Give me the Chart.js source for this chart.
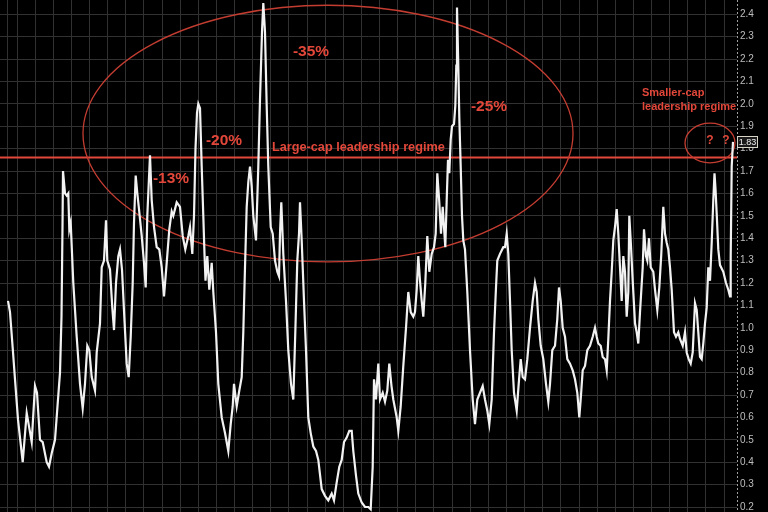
<!DOCTYPE html>
<html>
<head>
<meta charset="utf-8">
<script src="https://cdn.jsdelivr.net/npm/chart.js@4.4.1/dist/chart.umd.min.js"></script>
<style>
  html, body { margin: 0; padding: 0; background: #000; }
  #wrap { width: 768px; height: 512px; }
</style>
</head>
<body>
<div id="wrap"><canvas id="myChart" width="768" height="512"></canvas></div>
<script>
// time axis (arbitrary units)
var t = [
  8, 10, 12.7, 15, 18, 22.7, 26.7, 29, 31.7, 33,
  35, 37, 40, 42.7, 46.7, 49, 51.7, 55, 57, 60,
  61.5, 62.5, 63, 65, 66.7, 68.3, 69.3, 70.7, 73.3, 76.7,
  80, 82.7, 85, 87.3, 89.3, 91.7, 95, 96.7, 100, 101.7,
  104, 106, 107.3, 110, 112.3, 114, 116, 118.3, 120, 122,
  124.3, 126.7, 128.7, 130.7, 132.7, 134, 135.7, 137.3, 139, 141.7,
  144, 145.7, 147.3, 150, 151.7, 154, 156.7, 159.3, 161.7, 164,
  166.7, 169.3, 171.7, 173.3, 176.7, 180, 182.7, 185.3, 188.3, 190,
  192.3, 194, 195.5, 197, 198.3, 200, 201.7, 203.3, 204.5, 205.5,
  207.3, 209.3, 211.7, 213.3, 216, 218.3, 221.7, 225, 228.3, 230.7,
  232.7, 234, 236.7, 239.3, 241.7, 243.3, 245, 246.7, 248.3, 250,
  251.7, 253.3, 256, 258.3, 260, 262, 263.3, 265, 266.7, 268.3,
  270.7, 272.7, 275, 277.3, 279, 280, 281.3, 283.3, 286, 288.3,
  291, 293.3, 295.3, 297.3, 299, 300, 301.7, 304, 306, 308.3,
  310.7, 313.3, 316, 318.3, 321.7, 325, 328.3, 331.7, 334, 336.7,
  339.3, 341.7, 344, 346.7, 349.3, 351.7, 353.3, 356, 358.3, 361.7,
  365, 368.3, 370.7, 372.7, 374, 376, 378.3, 380, 382.7, 385,
  387.3, 389.3, 391.5, 393.3, 396.7, 398.3, 400.7, 403.3, 406, 408.3,
  410.7, 413.3, 415, 416.7, 418.3, 420, 421.7, 423.3, 425.3, 427.3,
  429.3, 431.7, 434, 435.7, 437.3, 439.3, 441, 442.7, 444, 445.3,
  446.7, 448, 449.3, 450.7, 452, 454, 455.3, 456.3, 457, 458.3,
  459.3, 460.7, 462, 463.3, 465, 467.3, 470, 472.7, 475, 477.3,
  480, 482.7, 485, 487.3, 489.3, 491.7, 494, 496, 497.3, 500,
  503.3, 505, 506.7, 508.3, 510, 511.7, 514, 516.7, 518.7, 520.7,
  522.7, 525, 527.3, 530, 532.7, 535, 536.7, 538.3, 540.7, 543.3,
  546, 548.3, 550, 552.3, 555, 557.3, 559, 560.7, 562.7, 565,
  567.3, 570, 572.7, 575, 577.3, 579.3, 580.7, 582.7, 585, 587.3,
  590, 592.7, 595, 596.7, 598.3, 600.7, 602.7, 605, 606.7, 608.3,
  610, 611.7, 613.3, 615, 616.7, 618.3, 620, 621.7, 623.3, 625,
  626.7, 628.3, 629.3, 630.7, 632.7, 635, 636.7, 638.3, 640, 642.7,
  644, 646, 647.3, 649, 650.7, 653.3, 655, 657.3, 659.3, 661.3,
  663.3, 665, 666.7, 668.3, 670, 671.7, 674, 676, 678.3, 680,
  682.7, 685, 686.7, 688.7, 690.7, 692.7, 695, 696.7, 698.3, 700,
  701.7, 703.3, 705, 706.7, 708.3, 710, 711.7, 713.3, 714.5, 715.5,
  716.7, 718.3, 720, 723.3, 726, 728.3, 730, 730.7, 731.7, 733
];

// ratio values
var ratio = [
  1.12, 1.07, 0.91, 0.77, 0.59, 0.40, 0.62, 0.56, 0.49, 0.59,
  0.74, 0.71, 0.50, 0.49, 0.40, 0.38, 0.44, 0.50, 0.62, 0.80,
  1.05, 1.45, 1.70, 1.60, 1.59, 1.60, 1.44, 1.47, 1.20, 0.96,
  0.75, 0.64, 0.75, 0.92, 0.90, 0.78, 0.72, 0.89, 1.02, 1.27,
  1.30, 1.48, 1.30, 1.26, 1.09, 0.99, 1.20, 1.32, 1.35, 1.26,
  1.05, 0.84, 0.78, 0.96, 1.20, 1.47, 1.68, 1.60, 1.53, 1.41,
  1.29, 1.18, 1.50, 1.77, 1.57, 1.45, 1.36, 1.35, 1.27, 1.14,
  1.29, 1.44, 1.52, 1.50, 1.56, 1.54, 1.41, 1.35, 1.41, 1.45,
  1.33, 1.50, 1.80, 1.96, 2.00, 1.98, 1.72, 1.50, 1.33, 1.21,
  1.32, 1.17, 1.29, 1.16, 0.98, 0.75, 0.60, 0.53, 0.45, 0.57,
  0.65, 0.75, 0.65, 0.72, 0.78, 0.98, 1.27, 1.54, 1.65, 1.72,
  1.63, 1.50, 1.39, 1.72, 2.02, 2.32, 2.45, 2.32, 1.99, 1.72,
  1.45, 1.42, 1.30, 1.25, 1.23, 1.42, 1.56, 1.33, 1.12, 0.90,
  0.75, 0.68, 0.98, 1.30, 1.42, 1.56, 1.39, 1.12, 0.90, 0.60,
  0.53, 0.47, 0.45, 0.41, 0.28, 0.25, 0.23, 0.26, 0.23, 0.31,
  0.38, 0.41, 0.49, 0.51, 0.54, 0.54, 0.45, 0.34, 0.26, 0.22,
  0.20, 0.20, 0.19, 0.38, 0.77, 0.68, 0.84, 0.68, 0.71, 0.67,
  0.72, 0.84, 0.74, 0.68, 0.60, 0.54, 0.65, 0.83, 1.00, 1.16,
  1.07, 1.05, 1.07, 1.17, 1.32, 1.21, 1.12, 1.05, 1.20, 1.41,
  1.25, 1.33, 1.36, 1.42, 1.69, 1.56, 1.42, 1.54, 1.45, 1.36,
  1.57, 1.75, 1.69, 1.84, 1.90, 1.91, 1.99, 2.17, 2.43, 2.17,
  1.94, 1.72, 1.50, 1.39, 1.35, 1.16, 0.90, 0.68, 0.57, 0.68,
  0.71, 0.74, 0.68, 0.63, 0.57, 0.68, 0.98, 1.18, 1.30, 1.33,
  1.36, 1.36, 1.42, 1.33, 1.12, 0.90, 0.71, 0.63, 0.75, 0.86,
  0.78, 0.77, 0.86, 1.00, 1.12, 1.20, 1.16, 1.04, 0.92, 0.86,
  0.75, 0.67, 0.75, 0.90, 0.92, 1.04, 1.18, 1.12, 1.00, 0.96,
  0.86, 0.84, 0.81, 0.77, 0.71, 0.60, 0.68, 0.81, 0.83, 0.90,
  0.92, 0.96, 1.00, 0.96, 0.93, 0.92, 0.87, 0.86, 0.81, 0.95,
  1.12, 1.25, 1.39, 1.45, 1.53, 1.42, 1.27, 1.12, 1.32, 1.25,
  1.05, 1.16, 1.50, 1.39, 1.21, 1.02, 0.98, 0.93, 1.07, 1.27,
  1.44, 1.32, 1.30, 1.40, 1.27, 1.25, 1.17, 1.08, 1.18, 1.33,
  1.54, 1.42, 1.38, 1.35, 1.27, 1.17, 0.98, 0.96, 0.98, 0.95,
  0.92, 0.98, 0.89, 0.86, 0.84, 0.89, 1.11, 1.08, 0.98, 0.87,
  0.86, 0.93, 1.02, 1.09, 1.27, 1.21, 1.38, 1.57, 1.69, 1.62,
  1.51, 1.35, 1.28, 1.25, 1.20, 1.17, 1.14, 1.32, 1.72, 1.83
];

// y-axis tick labels
var yTicks = [0.2, 0.3, 0.4, 0.5, 0.6, 0.7, 0.8, 0.9, 1.0, 1.1, 1.2,
  1.3, 1.4, 1.5, 1.6, 1.7, 1.8, 1.9, 2.0, 2.1, 2.2, 2.3, 2.4];

// regime threshold
var regimeLine = 1.76;

var RED = '#e2473a';
var GRID = '#313131';
var FONT = "'Liberation Sans', Arial, sans-serif";

// vertical grid positions (style only)
var gridX = [7];
for (var k = 0; k < 40; k++) gridX.push(17 + k * 18.13);

// notes drawn on top, in axis units
var notes = [
  { text: '-35%', x: 311, y: 2.232, size: 15.5, align: 'center' },
  { text: '-25%', x: 489, y: 1.985, size: 15.5, align: 'center' },
  { text: '-20%', x: 224, y: 1.834, size: 15.5, align: 'center' },
  { text: '-13%', x: 171, y: 1.664, size: 15.5, align: 'center' },
  { text: 'Large-cap leadership regime', x: 272, y: 1.803, size: 12.7, align: 'left' },
  { text: 'Smaller-cap', x: 642, y: 2.048, size: 11, align: 'left' },
  { text: 'leadership regime', x: 642, y: 1.986, size: 11, align: 'left' },
  { text: '?', x: 710, y: 1.834, size: 12, align: 'center' },
  { text: '?', x: 726, y: 1.834, size: 12, align: 'center' }
];

var rings = [
  { x0: 83, x1: 573, y0: 2.44, y1: 1.294 },
  { x0: 685, x1: 735, y0: 1.914, y1: 1.736 }
];

var overlay = {
  id: 'overlay',
  beforeDatasetsDraw: function(chart) {
    var ctx = chart.ctx, sx = chart.scales.x, sy = chart.scales.y, a = chart.chartArea;
    ctx.save();
    // red regime line
    var ly = sy.getPixelForValue(regimeLine);
    ctx.strokeStyle = RED;
    ctx.lineWidth = 2;
    ctx.beginPath();
    ctx.moveTo(a.left, ly);
    ctx.lineTo(a.right, ly);
    ctx.stroke();
    // ellipses
    ctx.strokeStyle = '#c43d31';
    ctx.lineWidth = 1.3;
    rings.forEach(function(r) {
      var x0 = sx.getPixelForValue(r.x0), x1 = sx.getPixelForValue(r.x1);
      var y0 = sy.getPixelForValue(r.y0), y1 = sy.getPixelForValue(r.y1);
      ctx.beginPath();
      ctx.ellipse((x0 + x1) / 2, (y0 + y1) / 2, Math.abs(x1 - x0) / 2, Math.abs(y1 - y0) / 2, 0, 0, Math.PI * 2);
      ctx.stroke();
    });
    ctx.restore();
  },
  afterDraw: function(chart) {
    var ctx = chart.ctx, sx = chart.scales.x, sy = chart.scales.y, a = chart.chartArea;
    ctx.save();
    // dashed axis line on the right
    ctx.strokeStyle = '#a0a0a0';
    ctx.lineWidth = 1;
    ctx.setLineDash([2, 2]);
    ctx.beginPath();
    ctx.moveTo(a.right + 0.5, a.top);
    ctx.lineTo(a.right + 0.5, a.bottom);
    ctx.stroke();
    ctx.setLineDash([]);

    ctx.fillStyle = RED;
    ctx.textBaseline = 'middle';
    notes.forEach(function(n) {
      ctx.font = 'bold ' + n.size + 'px ' + FONT;
      ctx.textAlign = n.align;
      ctx.fillText(n.text, sx.getPixelForValue(n.x), sy.getPixelForValue(n.y));
    });
    // last value tag
    var last = ratio[ratio.length - 1];
    var ty = Math.round(sy.getPixelForValue(last));
    ctx.fillStyle = '#1a1a1a';
    ctx.fillRect(a.right + 0.5, ty - 5.5, 20, 11);
    ctx.strokeStyle = '#d8d4c8';
    ctx.lineWidth = 1;
    ctx.strokeRect(a.right + 0.5, ty - 5.5, 20, 11);
    ctx.fillStyle = '#eeeeee';
    ctx.font = '9px ' + FONT;
    ctx.textAlign = 'center';
    ctx.fillText(last.toFixed(2), a.right + 10.5, ty + 0.5);
    ctx.restore();
  }
};

new Chart(document.getElementById('myChart').getContext('2d'), {
  type: 'line',
  data: {
    datasets: [{
      data: t.map(function(x, i) { return { x: x, y: ratio[i] }; }),
      borderColor: '#f2f2f2',
      borderWidth: 2.2,
      pointRadius: 0,
      tension: 0,
      fill: false
    }]
  },
  options: {
    responsive: false,
    animation: false,
    devicePixelRatio: 1,
    layout: { padding: 0 },
    plugins: { legend: { display: false }, tooltip: { enabled: false } },
    scales: {
      x: {
        type: 'linear',
        min: 0,
        max: 737,
        ticks: { display: false },
        grid: { color: GRID, lineWidth: 1, drawTicks: false },
        border: { display: false },
        afterBuildTicks: function(axis) {
          axis.ticks = gridX.map(function(v) { return { value: v }; });
        },
        afterFit: function(axis) {
          axis.height = 0;
          axis.paddingLeft = 0;
          axis.paddingRight = 0;
        }
      },
      y: {
        position: 'right',
        min: 0.1777,
        max: 2.4634,
        ticks: {
          color: '#bdbdbd',
          font: { family: FONT, size: 10 },
          padding: 3,
          callback: function(v) { return v.toFixed(1); }
        },
        grid: { color: GRID, lineWidth: 1, drawTicks: false },
        border: { display: false },
        afterBuildTicks: function(axis) {
          axis.ticks = yTicks.map(function(v) { return { value: v }; });
        },
        afterFit: function(axis) {
          axis.width = 31;
          axis.paddingTop = 0;
          axis.paddingBottom = 0;
        }
      }
    }
  },
  plugins: [overlay]
});
</script>
</body>
</html>
